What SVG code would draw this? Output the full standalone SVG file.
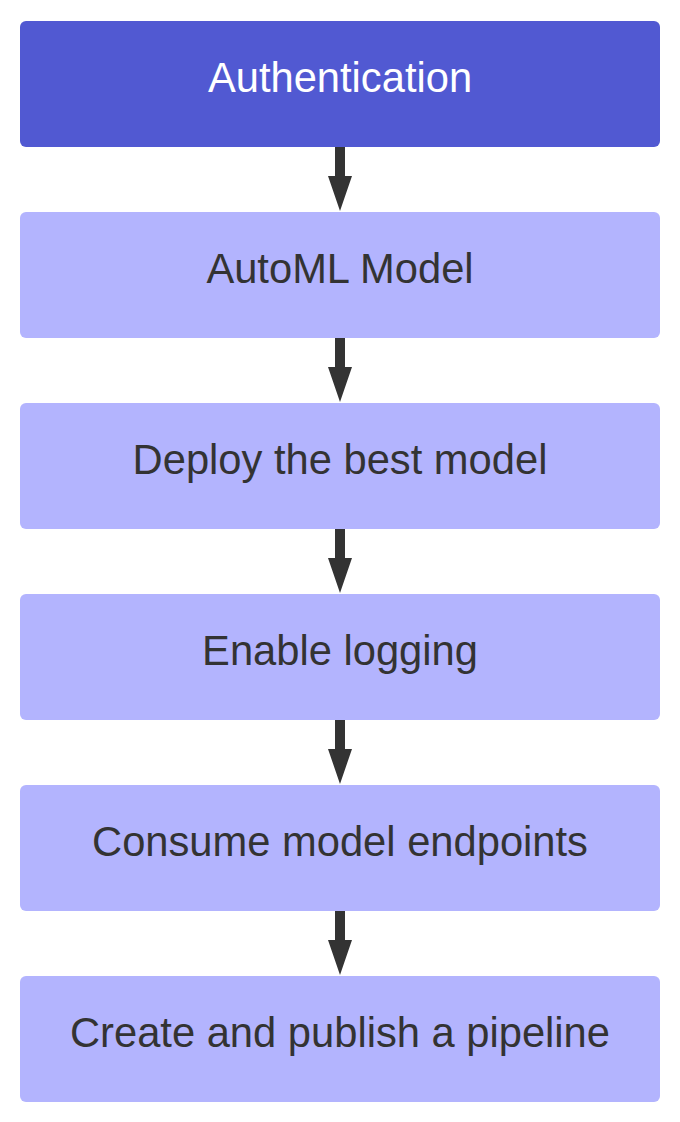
<svg xmlns="http://www.w3.org/2000/svg" width="680" height="1122" viewBox="0 0 680 1122">
<defs>
<style>
.box{fill:#b3b4fe}
.box-dark{fill:#5159d2}
.lbl{font-family:"Liberation Sans",Arial,sans-serif;font-size:41.7px;text-anchor:middle;fill:#333333}
.lbl-w{fill:#ffffff}
.arr{fill:#333333}
</style>
<path id="arrowShape" d="M335,0 H345 V29 H352 L340,64 L328,29 H335 Z"/>
</defs>
<rect width="680" height="1122" fill="#ffffff"/>
<g id="connectors" class="arr">
<use href="#arrowShape" y="147"/>
<use href="#arrowShape" y="338"/>
<use href="#arrowShape" y="529"/>
<use href="#arrowShape" y="720"/>
<use href="#arrowShape" y="911"/>
</g>
<g id="n1"><rect class="box-dark" x="20" y="21" width="640" height="126" rx="6"/><text class="lbl lbl-w" x="340" y="91.5">Authentication</text></g>
<g id="n2"><rect class="box" x="20" y="212" width="640" height="126" rx="6"/><text class="lbl" x="340" y="282.5">AutoML Model</text></g>
<g id="n3"><rect class="box" x="20" y="403" width="640" height="126" rx="6"/><text class="lbl" x="340" y="473.5">Deploy the best model</text></g>
<g id="n4"><rect class="box" x="20" y="594" width="640" height="126" rx="6"/><text class="lbl" x="340" y="664.5">Enable logging</text></g>
<g id="n5"><rect class="box" x="20" y="785" width="640" height="126" rx="6"/><text class="lbl" x="340" y="855.5">Consume model endpoints</text></g>
<g id="n6"><rect class="box" x="20" y="976" width="640" height="126" rx="6"/><text class="lbl" x="340" y="1046.5">Create and publish a pipeline</text></g>
</svg>
